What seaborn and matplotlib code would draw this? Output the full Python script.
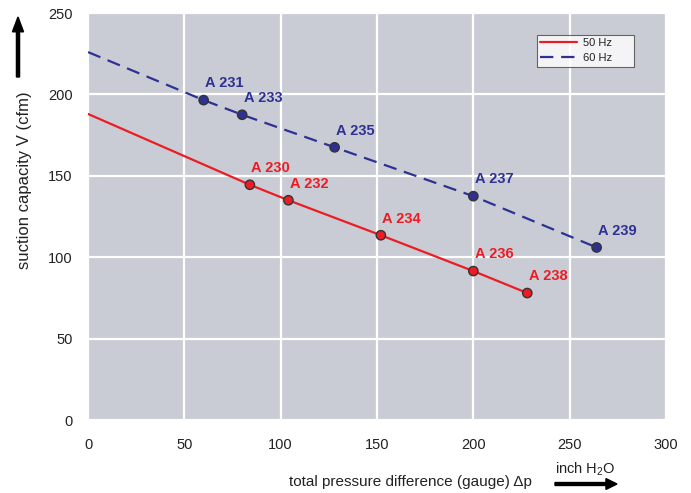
import numpy as np
import pandas as pd
import matplotlib
matplotlib.use('Agg')
import matplotlib.pyplot as plt
import seaborn as sns

# data
curve_50_dp = [0, 84, 104, 152, 200, 228]
curve_50_v = [188, 144.5, 135, 113.5, 91.5, 78]
curve_60_dp = [0, 60, 80, 128, 200, 264]
curve_60_v = [226, 196.5, 187.5, 167.5, 137.5, 106]

models_50 = ['A 230', 'A 232', 'A 234', 'A 236', 'A 238']
models_60 = ['A 231', 'A 233', 'A 235', 'A 237', 'A 239']

x_ticks = [0, 50, 100, 150, 200, 250, 300]
y_ticks = [0, 50, 100, 150, 200, 250]

red = '#ed1c24'
blue = '#2e3192'
bg = '#c9ccd4'

sns.set_style('white')
plt.rcParams['font.family'] = ['Liberation Sans', 'DejaVu Sans']
plt.rcParams['mathtext.default'] = 'regular'

df = pd.DataFrame({
    'dp': curve_50_dp + curve_60_dp,
    'v': curve_50_v + curve_60_v,
    'freq': ['50 Hz'] * len(curve_50_dp) + ['60 Hz'] * len(curve_60_dp),
})

fig = plt.figure(figsize=(6.91, 4.93), dpi=100)
ax = fig.add_axes([0.1274, 0.148, 0.8364, 0.8256])
ax.set_facecolor(bg)

sns.lineplot(data=df, x='dp', y='v', hue='freq', style='freq',
             palette={'50 Hz': red, '60 Hz': blue},
             dashes={'50 Hz': '', '60 Hz': (6, 3.5)},
             linewidth=1.6, ax=ax, sort=False)

# marked points (curve start at dp=0 has no marker)
pts = pd.DataFrame({
    'dp': curve_50_dp[1:] + curve_60_dp[1:],
    'v': curve_50_v[1:] + curve_60_v[1:],
    'freq': ['50 Hz'] * 5 + ['60 Hz'] * 5,
    'model': models_50 + models_60,
})
sns.scatterplot(data=pts, x='dp', y='v', hue='freq',
                palette={'50 Hz': red, '60 Hz': blue},
                s=45, edgecolor='#333333', linewidth=1.0,
                legend=False, ax=ax, zorder=5)

for _, r in pts.iterrows():
    c = red if r['freq'] == '50 Hz' else blue
    ax.annotate(r['model'], (r['dp'], r['v']), xytext=(1, 7),
                textcoords='offset points', color=c,
                fontsize=10.5, fontweight='bold', ha='left', va='bottom')

ax.set_xlim(0, 300)
ax.set_ylim(0, 250)
ax.set_xticks(x_ticks)
ax.set_yticks(y_ticks)
ax.grid(True, color='white', linewidth=1.6)
ax.set_axisbelow(True)
for s in ax.spines.values():
    s.set_visible(False)
ax.tick_params(axis='both', length=0, labelsize=10.5, colors='#222222')
ax.tick_params(axis='y', pad=11)
ax.tick_params(axis='x', pad=13)
ax.set_xlabel('')
ax.set_ylabel('')

# legend box stretched to the reference width
leg = ax.legend(loc='upper left', bbox_to_anchor=(0.777, 0.87, 0.168, 0.076),
                mode='expand', fontsize=8, frameon=True, fancybox=False,
                edgecolor='#444444', handlelength=3.3, handletextpad=0.5,
                borderpad=0.3, labelspacing=0.45, borderaxespad=0)
leg.get_frame().set_linewidth(0.8)
leg.get_frame().set_facecolor('white')
for t in leg.get_texts():
    t.set_color('#222222')

# axis titles with arrows, as in the reference
fig.text(410 / 691, 1 - 482 / 493, 'total pressure difference (gauge) \u0394p',
         ha='center', va='center', fontsize=11, color='#222222')
fig.text(585 / 691, 1 - 469 / 493, r'inch H$_2$O',
         ha='center', va='center', fontsize=10.5, color='#222222')
fig.text(25 / 691, 1 - 180 / 493, 'suction capacity V (cfm)', rotation=90,
         ha='center', va='center', fontsize=12, color='#222222')

fig.patches.append(matplotlib.patches.FancyArrow(
    555 / 691, 1 - 484 / 493, 62 / 691, 0, width=0.006, head_width=0.022,
    head_length=0.016, length_includes_head=True, color='black',
    transform=fig.transFigure, figure=fig))
fig.patches.append(matplotlib.patches.FancyArrow(
    18 / 691, 1 - 77 / 493, 0, 60 / 493, width=0.0045, head_width=0.016,
    head_length=0.03, length_includes_head=True, color='black',
    transform=fig.transFigure, figure=fig))

fig.savefig('out.png', dpi=100)
